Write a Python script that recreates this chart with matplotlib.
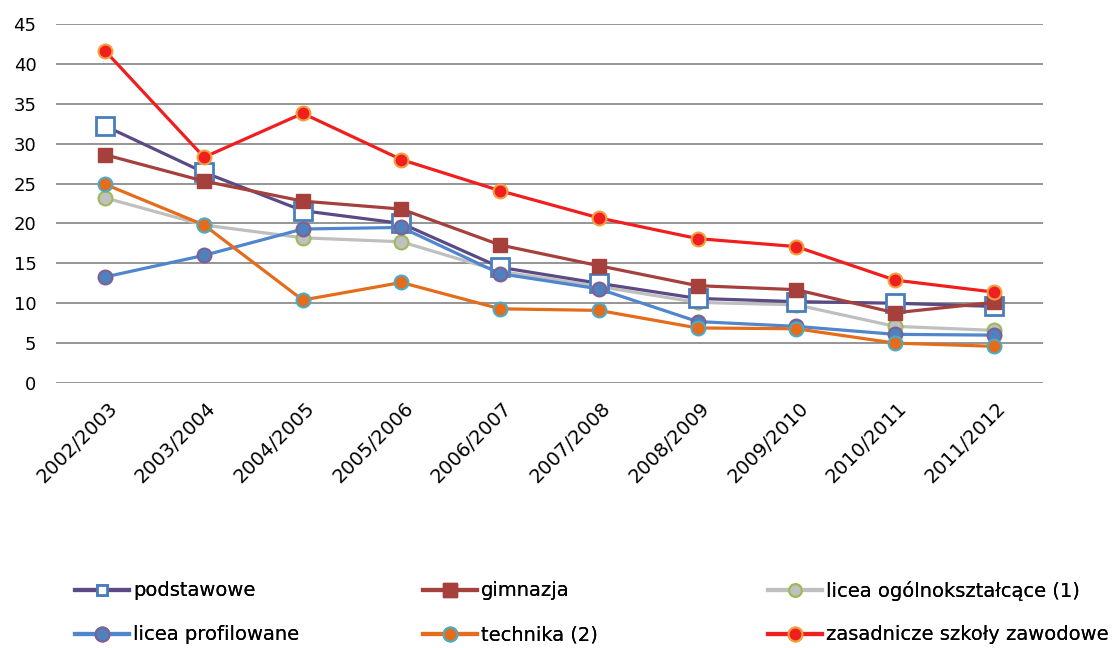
import matplotlib
matplotlib.use("Agg")
import matplotlib.pyplot as plt
from matplotlib.lines import Line2D
from matplotlib.transforms import ScaledTranslation

years = ["2002/2003", "2003/2004", "2004/2005", "2005/2006", "2006/2007",
         "2007/2008", "2008/2009", "2009/2010", "2010/2011", "2011/2012"]

podstawowe = [32.2, 26.4, 21.6, 20.0, 14.5, 12.5, 10.6, 10.2, 10.0, 9.6]
gimnazja = [28.6, 25.3, 22.8, 21.8, 17.3, 14.7, 12.2, 11.7, 8.8, 10.1]
licea_ogolne = [23.2, 19.8, 18.2, 17.7, 14.0, 12.1, 10.1, 9.8, 7.1, 6.6]
licea_profilowane = [13.3, 16.0, 19.3, 19.5, 13.7, 11.8, 7.7, 7.1, 6.1, 6.0]
technika = [24.9, 19.8, 10.4, 12.6, 9.3, 9.1, 6.9, 6.8, 5.0, 4.6]
zasadnicze = [41.6, 28.3, 33.8, 28.0, 24.1, 20.7, 18.1, 17.1, 12.9, 11.4]

labels = ["podstawowe", "gimnazja", "licea ogólnokształcące (1)",
          "licea profilowane", "technika (2)", "zasadnicze szkoły zawodowe"]

W, H = 1113, 648
fig = plt.figure(figsize=(W / 100, H / 100), dpi=100)
ax = fig.add_axes([56 / W, 1 - 383 / H, (1043 - 56) / W, (383 - 24) / H])

x = list(range(len(years)))
styles = [
    dict(data=podstawowe, color="#5b4a86", marker="s", mfc="white", mec="#4a7ebb", ms=13.5, mew=2, z=3, lms=7),
    dict(data=gimnazja, color="#a5403d", marker="s", mfc="#a5403d", mec="#a5403d", ms=10, mew=1, z=4, lms=10),
    dict(data=licea_ogolne, color="#bfbfbf", marker="o", mfc="#c0c0c0", mec="#9bbb59", ms=10, mew=1.5, z=2, lms=9),
    dict(data=licea_profilowane, color="#4f86cc", marker="o", mfc="#4f81bd", mec="#7f6094", ms=10, mew=1.5, z=3, lms=10),
    dict(data=technika, color="#e46c1a", marker="o", mfc="#e46c1a", mec="#4bacc6", ms=10, mew=1.5, z=4, lms=10),
    dict(data=zasadnicze, color="#f01e1e", marker="o", mfc="#f01e1e", mec="#f0a040", ms=10, mew=1.5, z=5, lms=10),
]

for s in styles:
    ax.plot(x, s["data"], color=s["color"], lw=2.3, marker=s["marker"],
            mfc=s["mfc"], mec=s["mec"], ms=s["ms"], mew=s["mew"], zorder=s["z"])

ax.set_ylim(0, 45)
ax.set_yticks(range(0, 46, 5))
ax.set_xlim(-0.5, len(years) - 0.5)
ax.set_xticks(x)
ax.tick_params(axis="x", length=0, pad=16)
ax.tick_params(axis="y", length=0, pad=14, labelsize=13)
ax.set_xticklabels(years, rotation=45, ha="right", va="center",
                   rotation_mode="anchor", fontsize=14)
offset = ScaledTranslation(9 / 100, 0, fig.dpi_scale_trans)
for t in ax.get_xticklabels():
    t.set_transform(t.get_transform() + offset)
ax.grid(axis="y", color="#8c8c8c", lw=1.3)
ax.set_axisbelow(True)
for sp in ax.spines.values():
    sp.set_visible(False)

# legend: 2 rows x 3 columns, row-wise order
leg_pos = [(75, 591), (423, 591), (768, 591), (75, 635), (423, 635), (768, 635)]
for (px, py), i in zip(leg_pos, range(6)):
    s = styles[i]
    h = Line2D([0], [0], color=s["color"], lw=3, marker=s["marker"], mfc=s["mfc"],
               mec=s["mec"], ms=s["lms"], mew=s["mew"])
    leg = fig.legend([h], [labels[i]], loc="center left",
                     bbox_to_anchor=(px / W, 1 - py / H), frameon=False,
                     borderpad=0, borderaxespad=0, handlelength=2.8,
                     handletextpad=0.2, fontsize=14)
    fig.add_artist(leg)

fig.savefig("out.png", dpi=100)
